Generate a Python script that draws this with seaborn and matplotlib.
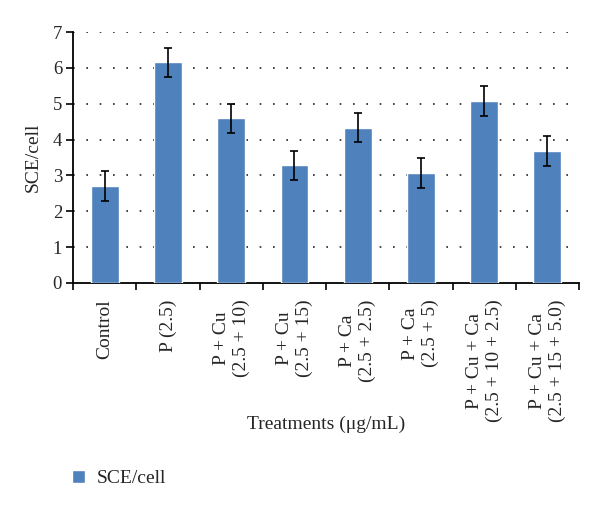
import matplotlib

matplotlib.use("Agg")

import matplotlib.pyplot as plt
import pandas as pd
import seaborn as sns
from matplotlib.patches import Patch

treatments = [
    "Control",
    "P (2.5)",
    "P + Cu\n(2.5 + 10)",
    "P + Cu\n(2.5 + 15)",
    "P + Ca\n(2.5 + 2.5)",
    "P + Ca\n(2.5 + 5)",
    "P + Cu + Ca\n(2.5 + 10 + 2.5)",
    "P + Cu + Ca\n(2.5 + 15 + 5.0)",
]
sce_per_cell = [2.70, 6.15, 4.59, 3.28, 4.33, 3.06, 5.07, 3.68]
sce_error = [0.41, 0.40, 0.41, 0.41, 0.40, 0.42, 0.42, 0.41]
y_ticks = [0, 1, 2, 3, 4, 5, 6, 7]

BAR_COLOR = "#4F81BD"

sns.set_theme(style="white")
plt.rcParams["font.family"] = ["Liberation Serif", "DejaVu Serif"]

df = pd.DataFrame({"treatment": treatments, "sce": sce_per_cell, "err": sce_error})

fig = plt.figure(figsize=(6.0, 5.08), dpi=100)
ax = fig.add_axes([0.122, 0.443, 0.843, 0.494])

sns.barplot(data=df, x="treatment", y="sce", color=BAR_COLOR, saturation=1,
            width=0.44, errorbar=None, ax=ax, zorder=3)
ax.errorbar(range(len(df)), df["sce"], yerr=df["err"], fmt="none",
            ecolor="black", elinewidth=1.2, capsize=3, capthick=1.2, zorder=4)

ax.set_ylim(0, 7)
ax.set_xlim(-0.5, len(df) - 0.5)
ax.set_yticks(y_ticks)
ax.set_yticklabels([str(t) for t in y_ticks], fontsize=13.5)
for y in y_ticks[1:]:
    ax.axhline(y, color="#222222", linewidth=1.2, linestyle=(0, (1, 7)), zorder=1)

ax.set_xticks(range(len(df)))
ax.set_xticklabels(df["treatment"], rotation=90, fontsize=14,
                   va="top", ha="center", multialignment="center")
ax.set_xticks([i - 0.5 for i in range(len(df) + 1)], minor=True)
ax.tick_params(axis="x", which="major", length=0, pad=12)
ax.tick_params(axis="x", which="minor", bottom=True, length=5, width=1.2,
               color="black", direction="out")
ax.tick_params(axis="y", length=5, width=1.2, color="black", direction="out",
               left=True, pad=3)

for side in ["top", "right"]:
    ax.spines[side].set_visible(False)
for side in ["left", "bottom"]:
    ax.spines[side].set_color("black")
    ax.spines[side].set_linewidth(1.3)

ax.set_ylabel("SCE/cell", fontsize=14, labelpad=8)
ax.set_xlabel("Treatments (μg/mL)", fontsize=14, va="center")
ax.xaxis.set_label_coords(0.5, -0.565)

fig.legend(handles=[Patch(facecolor=BAR_COLOR, label="SCE/cell")], loc="lower left",
           bbox_to_anchor=(0.09, 0.006), frameon=False, fontsize=14,
           handlelength=0.7, handleheight=0.7, handletextpad=0.6)

fig.savefig("out.png", dpi=100)
